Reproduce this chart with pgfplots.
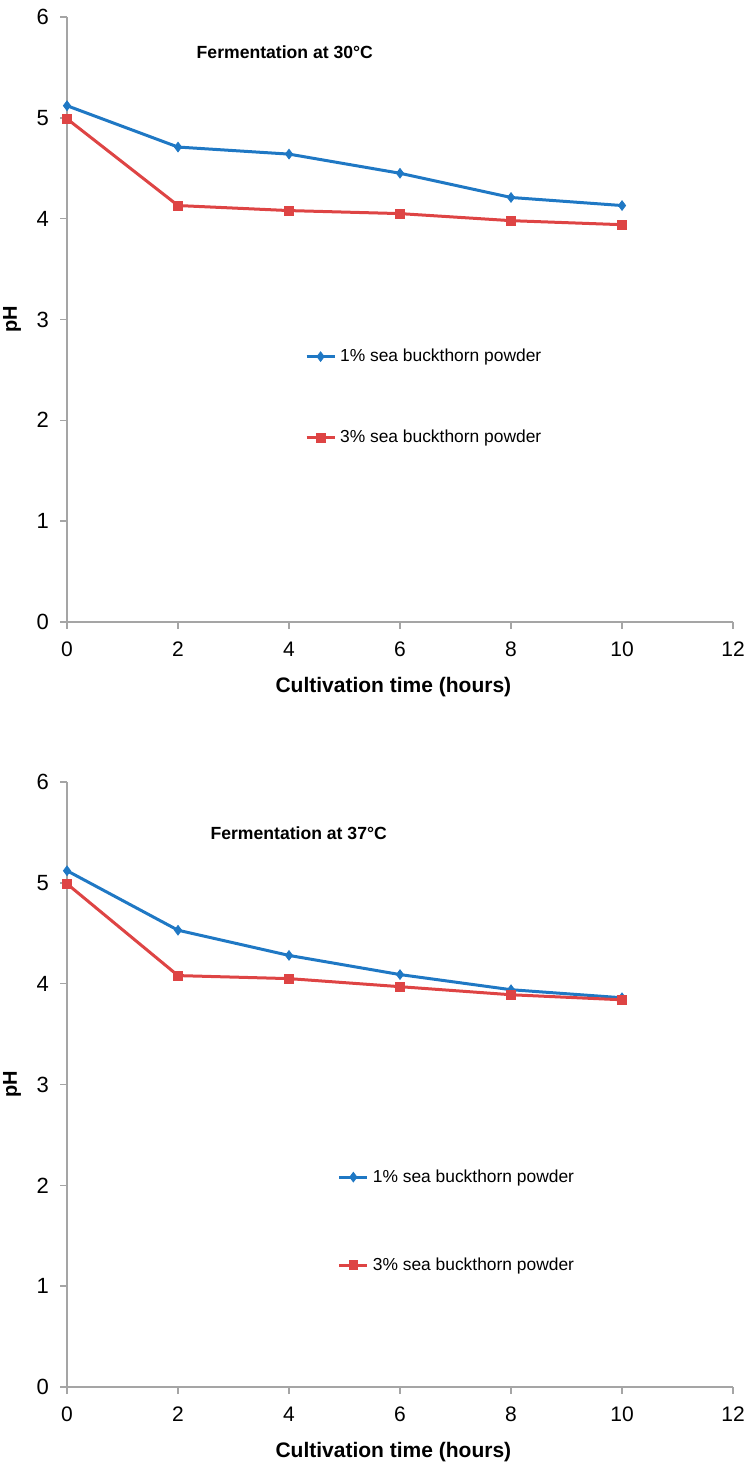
\documentclass[border=0pt]{standalone}
\usepackage{pgfplots}
\pgfplotsset{compat=1.18}
\usepackage{fontspec}
\setmainfont{Liberation Sans}
\definecolor{cblue}{RGB}{31,120,196}
\definecolor{cred}{RGB}{222,68,68}
\definecolor{axgray}{RGB}{165,165,165}
\pgfplotsset{
  myax/.style={
    scale only axis, width=333pt, height=302.5pt,
    xmin=0, xmax=12, ymin=0, ymax=6,
    xtick={0,2,...,12}, ytick={0,1,...,6},
    axis x line=bottom, axis y line=left,
    axis line style={-, draw=axgray, line width=0.7pt},
    tick align=outside, major tick length=3.5pt,
    tick style={draw=axgray, line width=0.7pt},
    /pgf/number format/assume math mode=true,
    xticklabel style={font=\fontsize{10.5}{12}\selectfont, text=black, yshift=-3pt},
    yticklabel style={font=\fontsize{11}{13}\selectfont, text=black, xshift=-2pt},
    xlabel={\bfseries\fontsize{10.5}{12}\selectfont Cultivation time (hours)},
    xlabel style={at={(axis description cs:0.49,-0.108)}, anchor=center},
    ylabel={\bfseries\fontsize{10}{12}\selectfont pH},
    ylabel style={at={(axis description cs:-0.0826,0.5)}, anchor=center, rotate=0},
    legend cell align=left,
    legend image code/.code={\draw[mark repeat=2,mark phase=2] plot coordinates {(0pt,0pt) (7pt,0pt) (14pt,0pt)};},
    legend style={draw=none, fill=none, inner sep=0pt, outer sep=0pt,
      font=\fontsize{8.7}{10}\selectfont,
      nodes={inner sep=0pt, text height=6.5pt, text depth=1.5pt},
      column sep=2pt},
  },
  s1/.style={cblue, line width=1.5pt, mark=diamond*, mark size=2.4pt, mark options={solid, fill=cblue, draw=cblue, line width=0.4pt}},
  s3/.style={cred, line width=1.5pt, mark=square*, mark size=2.2pt, mark options={solid, fill=cred, draw=cred, line width=0.4pt}},
}
\begin{document}
\begin{tikzpicture}
\useasboundingbox (-33.5pt,-44pt) rectangle (341.5pt,693.5pt);
\begin{axis}[myax, at={(0pt,382.5pt)}, anchor=south west,
  legend style={at={(axis cs:4.29,2.23)}, anchor=west, row sep=32.5pt}]
\addplot[s1] coordinates {(0,5.12) (2,4.71) (4,4.64) (6,4.45) (8,4.21) (10,4.13)};
\addlegendentry{1\% sea buckthorn powder}
\addplot[s3] coordinates {(0,4.99) (2,4.13) (4,4.08) (6,4.05) (8,3.98) (10,3.94)};
\addlegendentry{3\% sea buckthorn powder}
\node[anchor=west, font=\bfseries\fontsize{8.8}{10}\selectfont, inner sep=0pt] at (axis cs:2.33,5.65) {Fermentation at 30°C};
\end{axis}
\begin{axis}[myax, at={(0pt,0pt)}, anchor=south west,
  legend style={at={(axis cs:4.88,1.645)}, anchor=west, row sep=36pt}]
\addplot[s1] coordinates {(0,5.12) (2,4.53) (4,4.28) (6,4.09) (8,3.94) (10,3.86)};
\addlegendentry{1\% sea buckthorn powder}
\addplot[s3] coordinates {(0,4.99) (2,4.08) (4,4.05) (6,3.97) (8,3.89) (10,3.84)};
\addlegendentry{3\% sea buckthorn powder}
\node[anchor=west, font=\bfseries\fontsize{8.8}{10}\selectfont, inner sep=0pt] at (axis cs:2.58,5.49) {Fermentation at 37°C};
\end{axis}
\end{tikzpicture}
\end{document}
